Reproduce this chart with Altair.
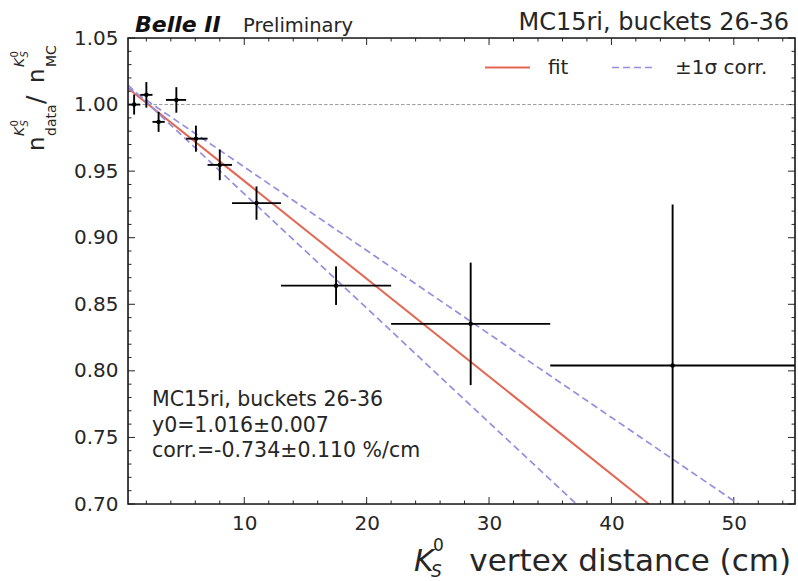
import altair as alt
import pandas as pd

# ---------------- data ----------------
x_center  = [1.0, 2.0, 3.0, 4.45, 6.05, 8.0, 11.0, 17.5, 28.5, 45.0]
x_low     = [0.5, 1.5, 2.5, 3.6, 5.25, 7.0, 9.0, 13.0, 22.0, 35.0]
x_high    = [1.5, 2.5, 3.5, 5.25, 7.0, 9.0, 13.0, 22.0, 35.0, 55.0]
ratio     = [1.000, 1.0073, 0.987, 1.0035, 0.9744, 0.9547, 0.926, 0.864, 0.8353, 0.804]
ratio_err = [0.0075, 0.0096, 0.0075, 0.0096, 0.0098, 0.0115, 0.0125, 0.0145, 0.046, 0.121]

line_x  = [0.5, 55.0]
fit_y   = [1.0123, 0.6123]
upper_y = [1.0127, 0.6710]
lower_y = [1.0146, 0.5465]
ref_y   = [1.0]

x_major = [10, 20, 30, 40, 50]
x_minor = [2, 4, 6, 8, 12, 14, 16, 18, 22, 24, 26, 28, 32, 34, 36, 38,
           42, 44, 46, 48, 52, 54]
y_major = [0.70, 0.75, 0.80, 0.85, 0.90, 0.95, 1.00, 1.05]
y_minor = [0.71, 0.72, 0.73, 0.74, 0.76, 0.77, 0.78, 0.79, 0.81, 0.82, 0.83,
           0.84, 0.86, 0.87, 0.88, 0.89, 0.91, 0.92, 0.93, 0.94, 0.96, 0.97,
           0.98, 0.99, 1.01, 1.02, 1.03, 1.04]

# ---------------- styling ----------------
W, H = 667, 466
FONT = "DejaVu Sans"
INK = "#262626"
RED = "#E0553F"
BLUE = "#978DE0"
MAJOR_LEN, MINOR_LEN = 7, 3.5

sx = alt.Scale(domain=[0.5, 55], nice=False, zero=False)
sy = alt.Scale(domain=[0.70, 1.05], nice=False, zero=False)

ax_x_lab = alt.Axis(orient="bottom", values=x_major, ticks=False, domain=False,
                    grid=False, labelFontSize=20, labelFont=FONT, labelColor=INK,
                    labelPadding=9, title=None)
ax_y_lab = alt.Axis(orient="left", values=y_major, format=".2f", ticks=False,
                    domain=False, grid=False, labelFontSize=20, labelFont=FONT,
                    labelColor=INK, labelPadding=10, title=None)

df = pd.DataFrame({"x": x_center, "xlo": x_low, "xhi": x_high, "y": ratio, "err": ratio_err})
df["ylo"] = df["y"] - df["err"]
df["yhi"] = df["y"] + df["err"]

fit_df = pd.DataFrame({"x": line_x, "y": fit_y})
band_df = pd.DataFrame({"x": line_x + line_x, "y": upper_y + lower_y,
                        "side": ["upper", "upper", "lower", "lower"]})
ref_df = pd.DataFrame({"y": ref_y})

one = alt.InlineData(values=[{}])

# ---------------- frame and inward ticks on all four sides ----------------
frame = alt.Chart(one).mark_rect(filled=False, stroke="#1a1a1a", strokeWidth=1.6).encode(
    x=alt.value(0), x2=alt.value(W), y=alt.value(0), y2=alt.value(H))

tick_layers = []
for vals, ln in [(x_major, MAJOR_LEN), (x_minor, MINOR_LEN)]:
    tdf = pd.DataFrame({"v": vals})
    xenc = alt.X("v:Q", scale=sx, axis=None)
    tick_layers.append(alt.Chart(tdf).mark_rule(color=INK, strokeWidth=1).encode(
        x=xenc, y=alt.value(H), y2=alt.value(H - ln)))
    tick_layers.append(alt.Chart(tdf).mark_rule(color=INK, strokeWidth=1).encode(
        x=xenc, y=alt.value(0), y2=alt.value(ln)))
for vals, ln in [(y_major, MAJOR_LEN), (y_minor, MINOR_LEN)]:
    tdf = pd.DataFrame({"v": vals})
    yenc = alt.Y("v:Q", scale=sy, axis=None)
    tick_layers.append(alt.Chart(tdf).mark_rule(color=INK, strokeWidth=1).encode(
        y=yenc, x=alt.value(0), x2=alt.value(ln)))
    tick_layers.append(alt.Chart(tdf).mark_rule(color=INK, strokeWidth=1).encode(
        y=yenc, x=alt.value(W), x2=alt.value(W - ln)))

ref_line = alt.Chart(ref_df).mark_rule(color="#9a9a9a", strokeWidth=1, strokeDash=[3.5, 2]).encode(
    y=alt.Y("y:Q", scale=sy, axis=None))

fit_line = alt.Chart(fit_df).mark_line(color=RED, strokeWidth=2, clip=True, opacity=0.9).encode(
    x=alt.X("x:Q", scale=sx, axis=None), y=alt.Y("y:Q", scale=sy, axis=None))

band_lines = alt.Chart(band_df).mark_line(color=BLUE, strokeWidth=1.7, strokeDash=[7, 4],
                                          clip=True).encode(
    x=alt.X("x:Q", scale=sx, axis=None), y=alt.Y("y:Q", scale=sy, axis=None),
    detail="side:N")

xerr = alt.Chart(df).mark_rule(color="black", strokeWidth=1.9, clip=True).encode(
    x=alt.X("xlo:Q", scale=sx, axis=None), x2="xhi:Q",
    y=alt.Y("y:Q", scale=sy, axis=None))

yerr = alt.Chart(df).mark_rule(color="black", strokeWidth=1.9, clip=True).encode(
    x=alt.X("x:Q", scale=sx, axis=None),
    y=alt.Y("ylo:Q", scale=sy, axis=None), y2="yhi:Q")

points = alt.Chart(df).mark_circle(size=20, color="black", opacity=1).encode(
    x=alt.X("x:Q", scale=sx, axis=ax_x_lab),
    y=alt.Y("y:Q", scale=sy, axis=ax_y_lab))


def label(text, x, y, size, align="left", angle=0, style="normal", weight="normal",
          color=INK):
    return alt.Chart(one).mark_text(
        text=text, fontSize=size, font=FONT, color=color, align=align,
        baseline="alphabetic", angle=angle, fontStyle=style, fontWeight=weight
    ).encode(x=alt.value(x), y=alt.value(y))


texts = [
    # header
    label("Belle II", 7, -6, 22, style="italic", weight="bold", color="#111"),
    label("Preliminary", 115, -6, 19.5),
    label("MC15ri, buckets 26-36", 661, -8, 24, align="right"),
    # in-plot annotation
    label("MC15ri, buckets 26-36", 24, 368, 20.5),
    label("y0=1.016\u00b10.007", 24, 394, 20.5),
    label("corr.=-0.734\u00b10.110 %/cm", 24, 419, 20.5),
    # legend
    label("fit", 420, 36, 20),
    label("\u00b11\u03c3 corr.", 547, 36, 20),
    # x title
    label("K", 286, 533, 30, style="italic"),
    label("S", 303, 539, 17, style="italic"),
    label("0", 305, 513, 17),
    label("vertex distance (cm)", 663, 533, 31, align="right"),
    # y title (rotated)
    label("n", -84, 113, 23, angle=270),
    label("data", -72, 98, 14, angle=270),
    label("K", -104, 98, 14, angle=270, style="italic"),
    label("S", -100, 88.5, 10, angle=270, style="italic"),
    label("0", -110, 88.5, 10, angle=270),
    label("/", -84, 66, 25, angle=270),
    label("n", -84, 45, 23, angle=270),
    label("MC", -72, 29, 14, angle=270),
    label("K", -104, 29, 14, angle=270, style="italic"),
    label("S", -100, 19.5, 10, angle=270, style="italic"),
    label("0", -110, 19.5, 10, angle=270),
]

legend_fit = alt.Chart(one).mark_rule(color=RED, strokeWidth=2, opacity=0.9).encode(
    x=alt.value(357), x2=alt.value(402), y=alt.value(29.5))
legend_band = alt.Chart(one).mark_rule(color=BLUE, strokeWidth=1.7, strokeDash=[7, 4]).encode(
    x=alt.value(484), x2=alt.value(527), y=alt.value(29.5))

chart = alt.layer(
    points, *tick_layers, ref_line, fit_line, band_lines, xerr, yerr,
    legend_fit, legend_band, frame, *texts
).resolve_axis(
    x="independent", y="independent"
).properties(
    width=W, height=H,
    autosize=alt.AutoSizeParams(type="none"),
    padding={"left": 128, "top": 38, "right": 3, "bottom": 77},
).configure_view(
    stroke=None
).configure(background="white")

chart.save("out.html", embed_options={"renderer": "svg", "actions": False})
